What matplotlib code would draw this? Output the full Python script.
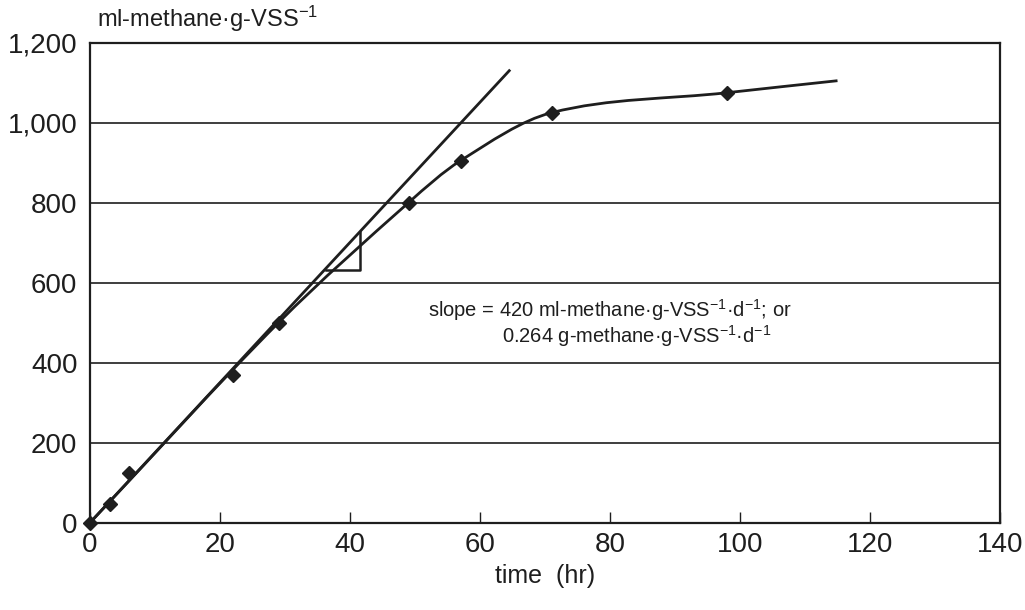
import matplotlib
matplotlib.use("Agg")
import matplotlib.pyplot as plt
from matplotlib.path import Path
from matplotlib.patches import PathPatch
from matplotlib.ticker import FuncFormatter

plt.rcParams['font.family'] = ['Liberation Sans', 'DejaVu Sans']
plt.rcParams['mathtext.fontset'] = 'custom'
plt.rcParams['mathtext.rm'] = 'Liberation Sans'
plt.rcParams['mathtext.it'] = 'Liberation Sans'

# measured points (time in hr, ml methane per g VSS)
time_hr = [0, 3, 6, 22, 29, 49, 57, 71, 98]
methane = [0, 48, 125, 370, 500, 800, 905, 1025, 1075]

# knots of the smoothed curve drawn through the data
curve_t = [0, 29, 49, 57, 71, 98, 115]
curve_y = [0, 500, 800, 905, 1025, 1075, 1105]

# initial slope line and its little triangle
slope_t = [0, 64.5]
slope_y = [0, 1130]
tri_t = [36.3, 41.5, 41.5]
tri_y = [632, 632, 728]

ink = '#1e1e1e'

fig = plt.figure(figsize=(10.25, 6.1), dpi=100)
ax = fig.add_axes([90/1025, 1 - 522.7/610, 910/1025, 480/610])

ax.set_xlim(0, 140)
ax.set_ylim(0, 1200)
ax.set_xticks(range(0, 141, 20))
ax.set_yticks(range(0, 1201, 200))
ax.yaxis.set_major_formatter(FuncFormatter(lambda v, p: f'{v:,.0f}'))
ax.grid(axis='y', color=ink, lw=1.2)
ax.tick_params(axis='x', direction='in', length=8, width=1, color=ink,
               labelsize=20, pad=7, labelcolor=ink)
ax.tick_params(axis='y', length=0, labelsize=20, pad=9, labelcolor=ink)
for s in ax.spines.values():
    s.set_color(ink)
    s.set_linewidth(1.6)

# hermite segments (tangents from neighbours) drawn as bezier curves
n = len(curve_t)
tang = []
for i in range(n):
    a = max(i - 1, 0)
    b = min(i + 1, n - 1)
    tang.append((curve_y[b] - curve_y[a]) / (curve_t[b] - curve_t[a]))
verts = [(curve_t[0], curve_y[0])]
codes = [Path.MOVETO]
for i in range(n - 1):
    h = (curve_t[i + 1] - curve_t[i]) / 3
    verts += [(curve_t[i] + h, curve_y[i] + tang[i] * h),
              (curve_t[i + 1] - h, curve_y[i + 1] - tang[i + 1] * h),
              (curve_t[i + 1], curve_y[i + 1])]
    codes += [Path.CURVE4] * 3
ax.add_patch(PathPatch(Path(verts, codes), fill=False, ec=ink, lw=2, zorder=3))

ax.plot(slope_t, slope_y, color=ink, lw=2, zorder=3)
ax.plot(tri_t, tri_y, color=ink, lw=1.8, zorder=3)
ax.plot(time_hr, methane, ls='none', marker='D', ms=7, color=ink, zorder=4,
        clip_on=False)

ax.set_xlabel('time  (hr)', fontsize=18, color=ink, labelpad=4)

neg = r'$^{\mathrm{-1}}$'
fig.text(97/1025, 1 - 27/610, 'ml-methane·g-VSS' + neg, fontsize=17,
         color=ink, va='baseline')
ax.text(52, 515, 'slope = 420 ml-methane·g-VSS' + neg + '·d' + neg + '; or',
        fontsize=14.5, color=ink, va='baseline')
ax.text(63.4, 449, '0.264 g-methane·g-VSS' + neg + '·d' + neg,
        fontsize=14.5, color=ink, va='baseline')

fig.savefig('out.png', dpi=100)
